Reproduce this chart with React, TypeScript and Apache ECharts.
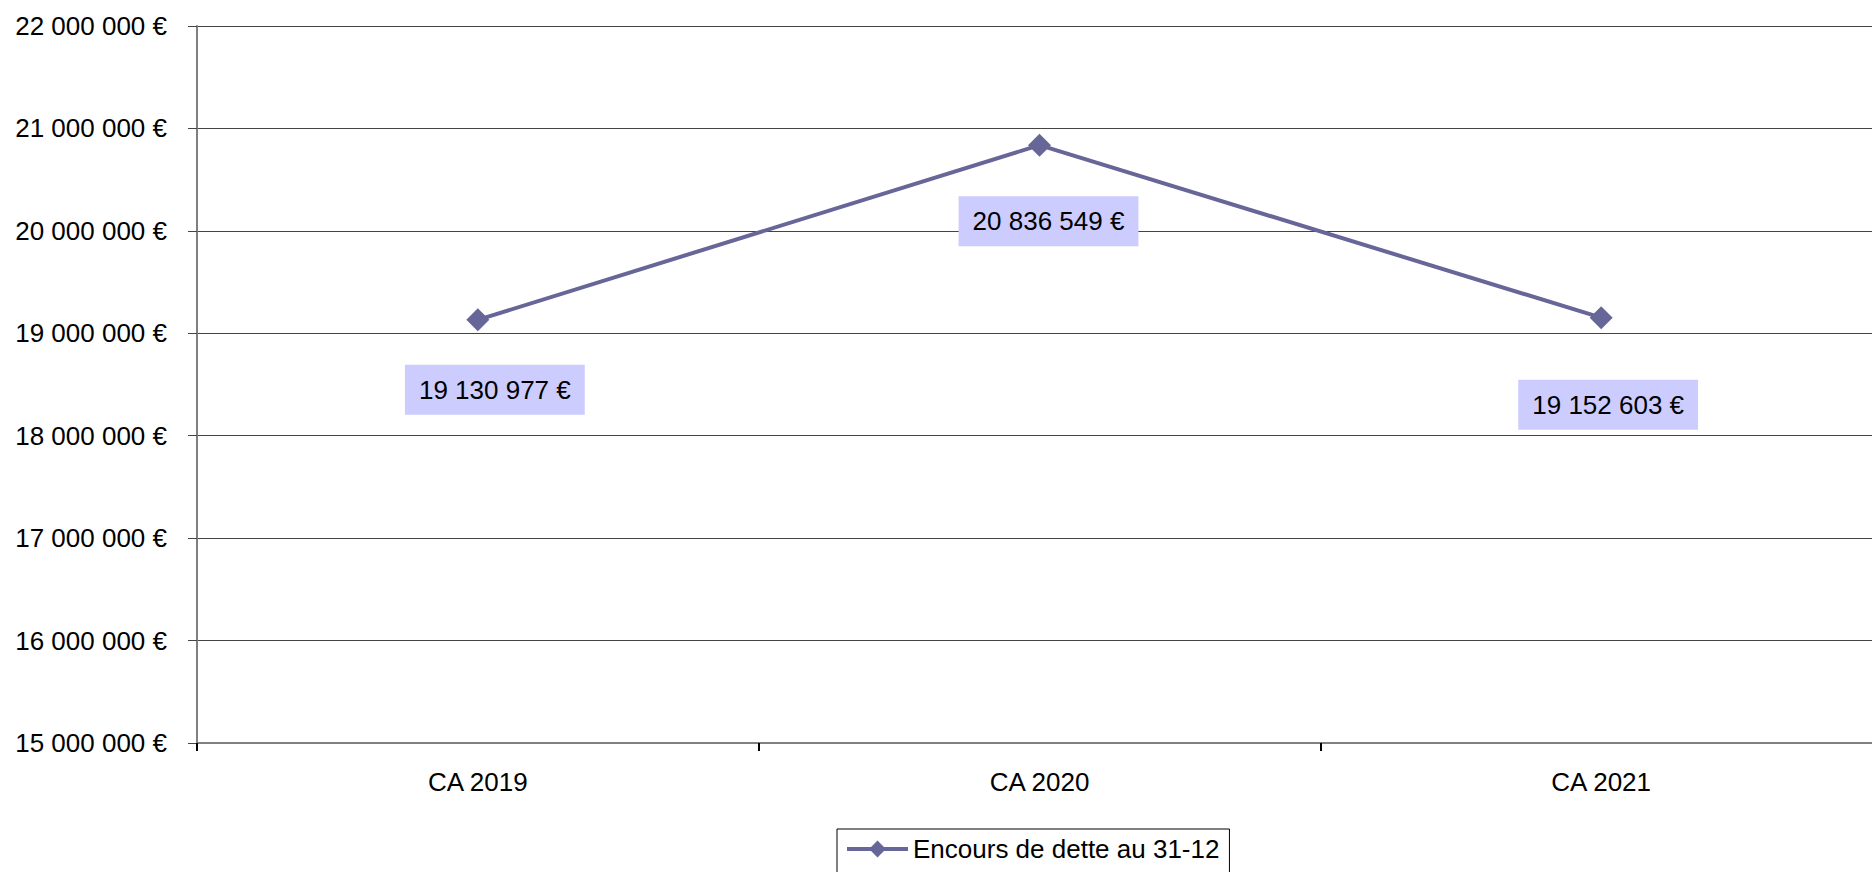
import React, { useEffect, useRef } from "react";
import * as echarts from "echarts";

const categories = ["CA 2019", "CA 2020", "CA 2021"];
const debtValues = [19130977, 20836549, 19152603];
const seriesName = "Encours de dette au 31-12";
const yMin = 15000000;
const yMax = 22000000;
const yStep = 1000000;

const FONT = '"Liberation Sans", Arial, sans-serif';
const labelOffsets = [
  [17, 70],
  [9, 76],
  [7, 87],
];

const fmt = (v: number) =>
  String(Math.round(v)).replace(/\B(?=(\d{3})+(?!\d))/g, " ") + " €";

export default function App() {
  const ref = useRef<HTMLDivElement>(null);
  useEffect(() => {
    if (!ref.current) return;
    const chart = echarts.init(ref.current, undefined, { renderer: "svg" });
    chart.setOption({
      animation: false,
      backgroundColor: "#ffffff",
      textStyle: { fontFamily: FONT },
      grid: {
        left: 197,
        top: 26,
        bottom: 129,
        right: -10,
        containLabel: false,
        outerBoundsMode: "none",
      },
      legend: {
        left: 837,
        top: 829,
        orient: "horizontal",
        itemWidth: 61,
        itemHeight: 21,
        itemGap: 8,
        padding: [7, 10, 40, 8],
        borderColor: "#000",
        borderWidth: 1,
        borderRadius: 0,
        lineStyle: { width: 4, color: "#666699" },
        textStyle: { fontSize: 26, color: "#000", fontFamily: FONT },
        data: [seriesName],
      },
      xAxis: {
        type: "category",
        data: categories,
        boundaryGap: true,
        axisLine: { show: true, lineStyle: { color: "#808080", width: 2 } },
        axisTick: {
          show: true,
          length: 8,
          inside: false,
          lineStyle: { color: "#000", width: 2 },
        },
        axisLabel: {
          fontSize: 26,
          color: "#000",
          margin: 26,
          fontFamily: FONT,
        },
        splitLine: { show: false },
      },
      yAxis: {
        type: "value",
        min: yMin,
        max: yMax,
        interval: yStep,
        axisLine: { show: true, lineStyle: { color: "#808080", width: 2 } },
        axisTick: {
          show: true,
          length: 9,
          lineStyle: { color: "#444", width: 1 },
        },
        axisLabel: {
          fontSize: 26,
          color: "#000",
          margin: 30,
          fontFamily: FONT,
          formatter: (v: number) => fmt(v),
        },
        splitLine: { show: true, lineStyle: { color: "#444", width: 1 } },
      },
      series: [
        {
          name: seriesName,
          type: "line",
          data: debtValues.map((v, i) => ({
            value: v,
            label: { offset: labelOffsets[i] },
          })),
          symbol: "diamond",
          symbolSize: 23,
          itemStyle: { color: "#666699" },
          lineStyle: { color: "#666699", width: 4 },
          label: {
            show: true,
            position: "inside",
            formatter: (p: any) => fmt(p.value),
            fontSize: 26,
            color: "#000",
            fontFamily: FONT,
            backgroundColor: "#CCCCFF",
            padding: [12, 14],
            lineHeight: 26,
          },
        },
      ],
    });
    return () => chart.dispose();
  }, []);
  return (
    <div
      ref={ref}
      style={{ position: "absolute", left: 0, top: 0, width: 1872, height: 872 }}
    />
  );
}
